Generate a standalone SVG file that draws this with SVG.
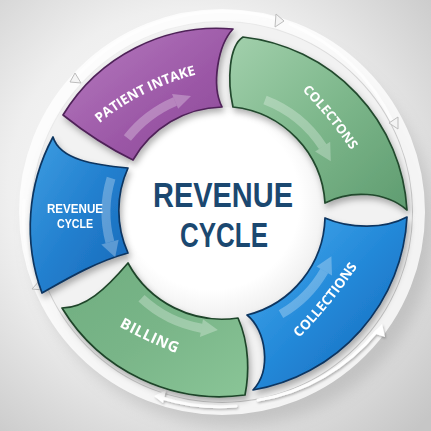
<svg xmlns="http://www.w3.org/2000/svg" width="431" height="431" viewBox="0 0 431 431">
<defs>
<radialGradient id="bg" cx="190" cy="190" r="330" gradientUnits="userSpaceOnUse">
<stop offset="0" stop-color="#ffffff"/><stop offset="0.55" stop-color="#efefef"/><stop offset="1" stop-color="#c6c6c6"/>
</radialGradient>
<radialGradient id="center" cx="0.45" cy="0.45" r="0.6">
<stop offset="0.7" stop-color="#ffffff"/><stop offset="1" stop-color="#ececec"/>
</radialGradient>
<linearGradient id="gPurple" x1="0" y1="0" x2="1" y2="1">
<stop offset="0" stop-color="#b77cc0"/><stop offset="0.6" stop-color="#9b57a6"/><stop offset="1" stop-color="#8a4696"/>
</linearGradient>
<linearGradient id="gGreen1" x1="0" y1="0" x2="1" y2="1">
<stop offset="0" stop-color="#a2d0ac"/><stop offset="0.5" stop-color="#7db78b"/><stop offset="1" stop-color="#5f9c70"/>
</linearGradient>
<linearGradient id="gGreen2" x1="0" y1="0" x2="1" y2="1">
<stop offset="0" stop-color="#6fae80"/><stop offset="0.5" stop-color="#79b588"/><stop offset="1" stop-color="#8ac597"/>
</linearGradient>
<linearGradient id="gBlue1" x1="0" y1="0" x2="1" y2="1">
<stop offset="0" stop-color="#49aef0"/><stop offset="0.5" stop-color="#2388d8"/><stop offset="1" stop-color="#1565b6"/>
</linearGradient>
<linearGradient id="gBlue2" x1="0" y1="0" x2="1" y2="1">
<stop offset="0" stop-color="#3e9ee2"/><stop offset="0.5" stop-color="#2380cf"/><stop offset="1" stop-color="#1868b8"/>
</linearGradient>
<linearGradient id="rule" x1="0" y1="0" x2="1" y2="0">
<stop offset="0" stop-color="#a0a4a8" stop-opacity="0"/><stop offset="0.15" stop-color="#a0a4a8"/><stop offset="0.85" stop-color="#a0a4a8"/><stop offset="1" stop-color="#a0a4a8" stop-opacity="0"/>
</linearGradient>
<filter id="shadow" x="-20%" y="-20%" width="140%" height="140%">
<feDropShadow dx="2" dy="4" stdDeviation="3" flood-color="#000" flood-opacity="0.3"/>
</filter>
<filter id="soft" x="-20%" y="-20%" width="140%" height="140%">
<feDropShadow dx="1" dy="1.5" stdDeviation="1" flood-color="#000" flood-opacity="0.3"/>
</filter>
<filter id="blur" x="-30%" y="-30%" width="160%" height="160%"><feGaussianBlur stdDeviation="8"/></filter>
<path id="tpPatient" d="M 95,127 Q 140,88 202,73"/>
<path id="tpColectons" d="M 300,88 Q 328,116 353,153"/>
<path id="tpCollections" d="M 297,340 Q 332,305 359,264"/>
<path id="tpBilling" d="M 118,326 Q 146,341 178,354"/>
</defs>
<style>
.seg{stroke-width:1.7;stroke-linejoin:round}
.lbl{font-family:"Open Sans","Liberation Sans",sans-serif;font-weight:700;fill:#ffffff}
.lbl2{font-family:"Liberation Sans",Arial,sans-serif;font-weight:700;fill:#ffffff}
.band{fill:none;stroke:#ffffff;stroke-opacity:0.28;stroke-width:9;stroke-linecap:butt}
.head{fill:#ffffff;fill-opacity:0.28}
.tri{fill:#f4f4f4;stroke:#bdbdbd;stroke-width:1}
.rim{fill:none;stroke:#ffffff;stroke-width:3;stroke-linecap:round}
.title{font-family:"Liberation Sans",Arial,sans-serif;font-weight:700;fill:#1b4870;font-size:35px}
</style>
<rect width="431" height="431" fill="url(#bg)"/>
<ellipse cx="232" cy="228" rx="202" ry="198" fill="#8e8e8e" opacity="0.35" filter="url(#blur)"/>
<circle cx="222" cy="212" r="197" fill="none" stroke="#ffffff" stroke-width="12" stroke-opacity="0.8"/>
<circle cx="222" cy="212" r="190" fill="#f2f2f2"/>
<circle cx="222" cy="212" r="105" fill="url(#center)"/>

<g id="connectors">
<path class="rim" stroke-opacity="0.7" d="M 75,78 A 199 199 0 0 1 280,20"/>
<path class="rim" stroke-opacity="0.7" d="M 290,24 A 199 199 0 0 1 393,123"/>
<path class="rim" stroke-opacity="0.6" d="M 36,284 A 199 199 0 0 1 24,200"/>
<g filter="url(#soft)">
<path class="rim" d="M 236,406 A 195 195 0 0 1 162,398"/>
<polygon fill="#ffffff" points="154,396 166,390 163,403"/>
<path class="rim" d="M 258,400 A 195 195 0 0 0 377,331"/>
<polygon fill="#ffffff" points="382,324 385,337 373,333"/>
</g>
<polygon class="tri" points="284,21 276,14 275,27"/>
<polygon class="tri" points="389,123 398,117 398,129"/>
<polygon class="tri" points="70,82 81,83 75,73"/>
<polygon class="tri" points="32,289 41,279 43,290"/>
</g>

<g id="patient-intake" filter="url(#shadow)">
<path class="seg" fill="url(#gPurple)" stroke="#4f2259" d="M 63,115 A 180 180 0 0 1 233,29 C 218,45 211,85 222,107 A 105 105 0 0 0 133,160 Q 98,143 63,115 Z"/>
<path class="band" d="M 127.4,138.1 A 120 120 0 0 1 175.1,101.5"/>
<polygon class="head" points="178.2,108.8 191,96.1 172,94.1"/>
<text class="lbl" font-size="13.5"><textPath href="#tpPatient" startOffset="50%" text-anchor="middle">PATIENT INTAKE</textPath></text>
</g>

<g id="colectons" filter="url(#shadow)">
<path class="seg" fill="url(#gGreen1)" stroke="#22492d" d="M 243,37 A 185 185 0 0 1 407,210 C 385,191 350,190 325,203 A 103 103 0 0 0 233,107 C 227,80 229,46 243,37 Z"/>
<path class="band" d="M 265,100 A 120 120 0 0 1 322.7,146.6"/>
<polygon class="head" points="315.1,151.5 330.8,161.2 330.2,141.7"/>
<text class="lbl" font-size="13"><textPath href="#tpColectons" startOffset="50%" text-anchor="middle">COLECTONS</textPath></text>
</g>

<g id="collections" filter="url(#shadow)">
<path class="seg" fill="url(#gBlue1)" stroke="#0c3560" d="M 407,217 C 385,229 350,229 325,218 A 103 103 0 0 1 247,315 C 266,330 272,370 253,390 A 185 185 0 0 0 407,217 Z"/>
<path class="band" d="M 281,314.2 A 118 118 0 0 0 324.2,271"/>
<polygon class="head" points="316.4,266.5 331.4,256.2 332,275.5"/>
<text class="lbl" font-size="13.5"><textPath href="#tpCollections" startOffset="50%" text-anchor="middle">COLLECTIONS</textPath></text>
</g>

<g id="billing" filter="url(#shadow)">
<path class="seg" fill="url(#gGreen2)" stroke="#1f4429" d="M 62,308 C 85,308 105,290 128,263 A 107 107 0 0 0 238,318 C 250,345 249,375 245,395 A 185 185 0 0 1 62,308 Z"/>
<path class="band" d="M 141.5,298.3 A 118 118 0 0 0 201.5,328.2"/>
<polygon class="head" points="203,319.3 217.9,329.9 199.9,337.1"/>
<text class="lbl" font-size="15" letter-spacing="0.5"><textPath href="#tpBilling" startOffset="50%" text-anchor="middle">BILLING</textPath></text>
</g>

<g id="revenue-cycle-step" filter="url(#shadow)">
<path class="seg" fill="url(#gBlue2)" stroke="#0c3560" d="M 53,137 C 60,160 95,165 128,168 A 103 103 0 0 0 128,253 C 95,262 65,280 42,293 A 190 190 0 0 1 53,137 Z"/>
<path class="band" d="M 111.1,178.1 A 116 116 0 0 0 109.9,242"/>
<polygon class="head" points="118.6,239.7 115.2,257.3 101.3,244.4"/>
<text class="lbl2" font-size="13" text-anchor="middle"><tspan x="75" y="212.5" textLength="56" lengthAdjust="spacingAndGlyphs">REVENUE</tspan><tspan x="75" y="228" textLength="36" lengthAdjust="spacingAndGlyphs">CYCLE</tspan></text>
</g>

<g id="title">
<line x1="168" y1="155" x2="279" y2="155" stroke="url(#rule)" stroke-width="1.2"/>
<line x1="168" y1="275" x2="279" y2="275" stroke="url(#rule)" stroke-width="1.2"/>
<text class="title" text-anchor="middle"><tspan x="223" y="207" textLength="140" lengthAdjust="spacingAndGlyphs">REVENUE</tspan><tspan x="224" y="247" textLength="88" lengthAdjust="spacingAndGlyphs">CYCLE</tspan></text>
</g>
</svg>
